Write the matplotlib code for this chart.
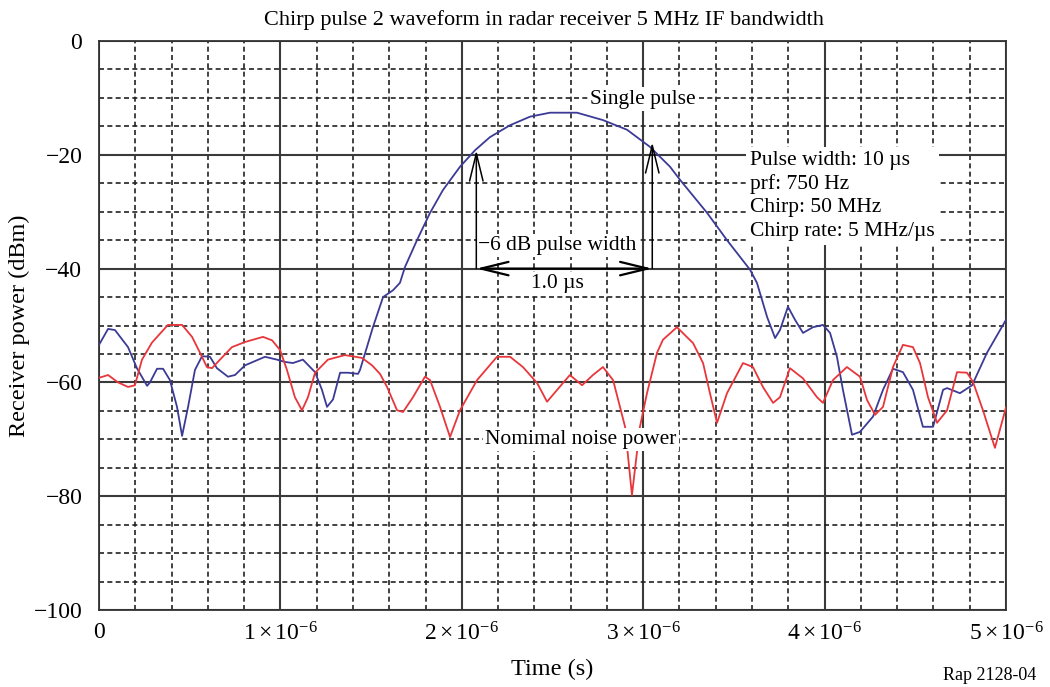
import matplotlib
matplotlib.use("Agg")
import matplotlib.pyplot as plt
import numpy as np
from matplotlib.ticker import MultipleLocator, FixedLocator

plt.rcParams['font.family'] = ['Liberation Serif', 'DejaVu Serif']
plt.rcParams['mathtext.fontset'] = 'custom'
plt.rcParams['mathtext.rm'] = 'Liberation Serif'
plt.rcParams['mathtext.it'] = 'Liberation Serif:italic'
plt.rcParams['axes.unicode_minus'] = True

# ---- data (time in microseconds, power in dBm) ----
pulse_t_us = [0.000, 0.050, 0.088, 0.160, 0.209, 0.265, 0.281, 0.320, 0.353, 0.391,
              0.430, 0.458, 0.491, 0.529, 0.568, 0.612, 0.650, 0.711, 0.750, 0.805,
              0.915, 0.981, 1.025, 1.069, 1.124, 1.191, 1.229, 1.257, 1.290, 1.329,
              1.373, 1.428, 1.439, 1.477, 1.510, 1.566, 1.621, 1.659, 1.687, 1.753,
              1.825, 1.896, 1.990, 2.073, 2.155, 2.266, 2.376, 2.486, 2.635, 2.778,
              2.911, 3.037, 3.148, 3.203, 3.352, 3.462, 3.589, 3.627, 3.683, 3.727,
              3.754, 3.798, 3.837, 3.881, 3.936, 3.991, 4.030, 4.068, 4.101, 4.151,
              4.195, 4.267, 4.322, 4.377, 4.432, 4.487, 4.542, 4.598, 4.653, 4.675,
              4.746, 4.813, 4.895, 5.000]
pulse_dbm = [-53.4, -50.6, -50.8, -53.8, -57.5, -60.6, -60.0, -57.6, -57.6, -59.6,
             -64.3, -69.4, -64.3, -57.8, -55.4, -55.5, -57.5, -59.0, -58.7, -57.0,
             -55.5, -56.0, -56.4, -56.6, -56.0, -58.2, -61.3, -64.3, -63.0, -58.3,
             -58.3, -58.5, -57.8, -53.8, -50.3, -45.0, -43.8, -42.5, -39.7, -35.0,
             -30.2, -26.2, -22.1, -19.2, -16.9, -14.8, -13.3, -12.6, -12.6, -13.9,
             -15.6, -18.6, -22.1, -24.4, -30.2, -35.0, -40.2, -42.5, -48.5, -52.2,
             -50.8, -46.7, -49.0, -51.3, -50.3, -49.9, -51.3, -55.5, -61.3, -69.2,
             -68.7, -66.0, -61.3, -57.6, -58.2, -61.3, -67.8, -67.8, -61.3, -61.0,
             -61.9, -60.5, -54.8, -49.0]

noise_t_us = [0.000, 0.050, 0.105, 0.160, 0.198, 0.237, 0.292, 0.380, 0.458, 0.513,
              0.557, 0.595, 0.623, 0.667, 0.733, 0.805, 0.904, 0.954, 0.998, 1.036,
              1.080, 1.119, 1.152, 1.191, 1.262, 1.356, 1.450, 1.505, 1.549, 1.588,
              1.643, 1.676, 1.731, 1.797, 1.825, 1.880, 1.935, 1.990, 2.084, 2.194,
              2.266, 2.337, 2.415, 2.470, 2.558, 2.596, 2.663, 2.723, 2.778, 2.834,
              2.872, 2.900, 2.938, 2.982, 3.021, 3.076, 3.109, 3.186, 3.275, 3.330,
              3.368, 3.407, 3.462, 3.550, 3.605, 3.660, 3.716, 3.754, 3.809, 3.881,
              3.958, 3.991, 4.046, 4.123, 4.195, 4.234, 4.278, 4.322, 4.377, 4.432,
              4.487, 4.526, 4.570, 4.620, 4.675, 4.730, 4.785, 4.818, 4.873, 4.939,
              5.000]
noise_dbm = [-59.2, -58.7, -60.0, -60.8, -60.5, -56.0, -53.0, -49.9, -49.9, -52.0,
             -54.8, -57.3, -57.5, -56.0, -53.8, -52.9, -52.0, -52.6, -54.3, -57.8,
             -62.6, -64.9, -62.6, -58.3, -56.0, -55.2, -55.7, -57.0, -58.5, -60.8,
             -64.9, -65.2, -62.6, -59.0, -59.6, -64.3, -69.6, -64.9, -59.6, -55.5,
             -55.5, -57.3, -60.1, -63.4, -60.1, -58.7, -60.5, -58.7, -57.3, -59.6,
             -64.3, -67.8, -79.8, -67.8, -61.9, -54.8, -52.5, -50.3, -53.1, -56.6,
             -61.9, -67.1, -61.9, -56.6, -57.3, -60.8, -63.6, -62.6, -57.5, -59.3,
             -62.6, -63.6, -59.6, -57.3, -59.0, -63.1, -65.7, -64.3, -57.3, -53.4,
             -53.8, -56.6, -62.6, -67.1, -64.9, -58.2, -58.3, -59.9, -64.9, -71.5,
             -64.4]

x_ticks = [0, 1e-6, 2e-6, 3e-6, 4e-6, 5e-6]
x_tick_labels = ['0', r'$\mathregular{1\times10^{-6}}$', r'$\mathregular{2\times10^{-6}}$',
                 r'$\mathregular{3\times10^{-6}}$', r'$\mathregular{4\times10^{-6}}$',
                 r'$\mathregular{5\times10^{-6}}$']
y_ticks = [0, -20, -40, -60, -80, -100]
y_tick_labels = ['0', '\u221220', '\u221240', '\u221260', '\u221280', '\u2212100']

arrow_left_t = 2.08e-6
arrow_right_t = 3.05e-6
arrow_base_dbm = -40
arrow_left_top = -19.2
arrow_right_top = -17.8

# ---- figure ----
fig = plt.figure(figsize=(10.5, 6.87), dpi=100)
ax = fig.add_axes([99/1050, 1 - 610/687, 907/1050, 569/687])

t_pulse = np.array(pulse_t_us) * 1e-6
t_noise = np.array(noise_t_us) * 1e-6

ax.plot(t_pulse, pulse_dbm, color='#3b3b96', lw=1.3, zorder=4)
ax.plot(t_noise, noise_dbm, color='#e8363b', lw=1.3, zorder=4)

ax.set_xlim(0, 5e-6)
ax.set_ylim(-100, 0)
ax.xaxis.set_major_locator(FixedLocator(x_ticks))
ax.set_xticklabels(x_tick_labels)
ax.yaxis.set_major_locator(FixedLocator(y_ticks))
ax.set_yticklabels(y_tick_labels)
ax.xaxis.set_minor_locator(MultipleLocator(0.2e-6))
ax.yaxis.set_minor_locator(MultipleLocator(5))

ax.grid(which='major', color='#3a3a3a', lw=1.5, ls='-', zorder=1)
ax.grid(which='minor', color='#222222', lw=1.2, ls=(0, (3, 2)), zorder=1)
ax.set_axisbelow(True)
ax.tick_params(which='both', length=0)
ax.tick_params(axis='y', pad=12, labelsize=17)
ax.tick_params(axis='x', pad=9, labelsize=17)
for s in ax.spines.values():
    s.set_color('#333333')
    s.set_linewidth(1.3)

ax.set_xlabel('Time (s)', fontsize=17.5)
ax.xaxis.set_label_coords(0.5, -0.086)
ax.set_ylabel('Receiver power (dBm)', fontsize=17.5)
ax.yaxis.set_label_coords(-0.076, 0.5)
fig.text(0.5 * (265 + 822) / 1050, 1 - 20/687,
         'Chirp pulse 2 waveform in radar receiver 5 MHz IF bandwidth',
         fontsize=16, ha='center', va='center')

# ---- annotations ----
ap = dict(arrowstyle='->, head_length=0.9, head_width=0.22', color='black', lw=1.1,
          mutation_scale=22, shrinkA=0, shrinkB=0)
ax.annotate('', xy=(arrow_left_t, arrow_left_top), xytext=(arrow_left_t, arrow_base_dbm),
            arrowprops=ap, zorder=6)
ax.annotate('', xy=(arrow_right_t, arrow_right_top), xytext=(arrow_right_t, arrow_base_dbm),
            arrowprops=ap, zorder=6)
ap2 = dict(arrowstyle='<->, head_length=0.9, head_width=0.22', color='black', lw=1.6,
           mutation_scale=22, shrinkA=0, shrinkB=0)
ax.annotate('', xy=(arrow_left_t, arrow_base_dbm), xytext=(arrow_right_t, arrow_base_dbm),
            arrowprops=ap2, zorder=6)

wb = dict(facecolor='white', edgecolor='none', pad=1.5)
fs = 15.5
ax.text(3.0e-6, -10.2, 'Single pulse', fontsize=fs, ha='center', va='center',
        bbox=wb, zorder=5)
ax.text(2.09e-6, -36.0, '\u22126 dB pulse width', fontsize=fs, ha='left', va='center',
        bbox=wb, zorder=5)
ax.text(2.525e-6, -42.7, '1.0 \u00b5s', fontsize=fs, ha='center', va='center',
        bbox=wb, zorder=5)
ax.text(3.59e-6, -19.3, 'Pulse width: 10 \u00b5s\nprf: 750 Hz\nChirp: 50 MHz\nChirp rate: 5 MHz/\u00b5s',
        fontsize=fs, ha='left', va='top', linespacing=1.3,
        bbox=dict(facecolor='white', edgecolor='none', pad=3), zorder=5)
ax.text(2.13e-6, -70.0, 'Nomimal noise power', fontsize=fs, ha='left', va='center',
        bbox=wb, zorder=5)

fig.text(1036/1050, 1 - 676/687, 'Rap 2128-04', fontsize=13, ha='right', va='center')

fig.savefig('out.png', dpi=100)
